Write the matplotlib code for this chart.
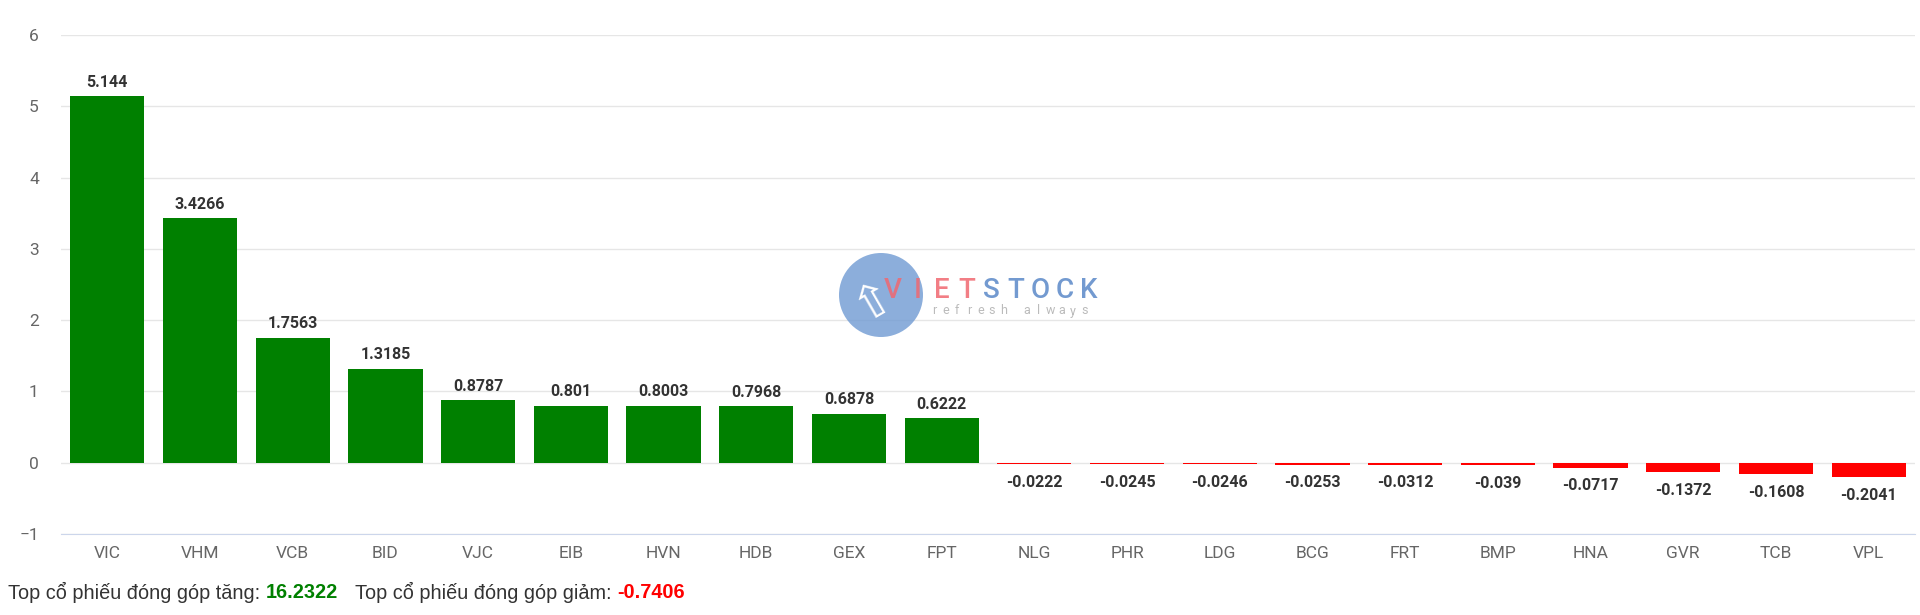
import numpy as np
import matplotlib
matplotlib.use("Agg")
import matplotlib.pyplot as plt
from matplotlib.patches import Circle

tickers = ["VIC", "VHM", "VCB", "BID", "VJC", "EIB", "HVN", "HDB", "GEX", "FPT",
           "NLG", "PHR", "LDG", "BCG", "FRT", "BMP", "HNA", "GVR", "TCB", "VPL"]
values = [5.144, 3.4266, 1.7563, 1.3185, 0.8787, 0.801, 0.8003, 0.7968, 0.6878, 0.6222,
          -0.0222, -0.0245, -0.0246, -0.0253, -0.0312, -0.039, -0.0717, -0.1372, -0.1608, -0.2041]
labels = ["5.144", "3.4266", "1.7563", "1.3185", "0.8787", "0.801", "0.8003", "0.7968", "0.6878", "0.6222",
          "-0.0222", "-0.0245", "-0.0246", "-0.0253", "-0.0312", "-0.039", "-0.0717", "-0.1372", "-0.1608", "-0.2041"]
yticks = [-1, 0, 1, 2, 3, 4, 5, 6]

plt.rcParams['font.family'] = ['Roboto', 'DejaVu Sans']

fig = plt.figure(figsize=(19.2, 6.15), dpi=100)
ax = fig.add_axes([61 / 1920, 1 - 534 / 615, (1915 - 61) / 1920, (534 - 35) / 615])

vals = np.array(values)
colors = np.where(vals >= 0, "#008000", "#ff0000")
x = np.arange(len(tickers))
ax.bar(x, vals, width=0.8, color=colors, zorder=3)

for xi, v, lab in zip(x, vals, labels):
    off = 10 if v >= 0 else -13
    ax.annotate(lab, (xi, v), xytext=(0, off), textcoords="offset points",
                ha="center", va="center", fontsize=11.5, fontweight="bold", color="#333333")

ax.set_xlim(-0.5, len(tickers) - 0.5)
ax.set_ylim(-1, 6)
ax.set_yticks(yticks)
ax.set_yticklabels([("\u2212" + str(-t)) if t < 0 else str(t) for t in yticks])
ax.set_xticks(x)
ax.set_xticklabels(tickers)
ax.tick_params(axis="both", length=0, labelsize=12.5, labelcolor="#666666")
ax.tick_params(axis="y", pad=16)
ax.tick_params(axis="x", pad=9)
ax.grid(axis="y", color="#e6e6e6", linewidth=1, zorder=0)
for s in ["top", "left", "right"]:
    ax.spines[s].set_visible(False)
ax.spines["bottom"].set_color("#ccd6eb")
ax.spines["bottom"].set_zorder(4)

fig.canvas.draw()
renderer = fig.canvas.get_renderer()

# watermark logo
fig.patches.append(Circle((881, 615 - 295), 42, transform=None, facecolor="#6f9ad3",
                          alpha=0.8, edgecolor="none", zorder=5))
fig.text(874 / 1920, 1 - 300 / 615, "\u21e7", ha="center", va="center", fontsize=34,
         color="white", rotation=30, family=["DejaVu Sans"], zorder=6)
for i, ch in enumerate("VIETSTOCK"):
    col = "#f06870" if i < 4 else "#5a88c8"
    fig.text((893 + i * 24.5) / 1920, 1 - 290 / 615, ch, ha="center", va="center",
             fontsize=20, color=col, fontweight="medium", alpha=0.85, zorder=6)
for i, ch in enumerate("refresh always"):
    fig.text((934 + i * 11.6) / 1920, 1 - 311 / 615, ch, ha="center", va="center",
             fontsize=9, color="#bbbbbb", zorder=6)

# footer
pos_total = vals[vals > 0].sum()
neg_total = vals[vals < 0].sum()
parts = [("Top c\u1ed5 phi\u1ebfu \u0111\u00f3ng g\u00f3p t\u0103ng: ", "#333333", "normal", 0),
         (f"{pos_total:.4f}", "#008000", "bold", 17),
         ("Top c\u1ed5 phi\u1ebfu \u0111\u00f3ng g\u00f3p gi\u1ea3m: ", "#333333", "normal", 0),
         (f"{neg_total:.4f}", "#ff0000", "bold", 0)]
xpos = 8
for txt, col, w, gap in parts:
    t = fig.text(xpos / 1920, 1 - 592 / 615, txt, ha="left", va="center", fontsize=14.3,
                 color=col, fontweight=w, family=["Liberation Sans", "DejaVu Sans"])
    xpos += t.get_window_extent(renderer).width + gap

fig.savefig("out.png", dpi=100)
